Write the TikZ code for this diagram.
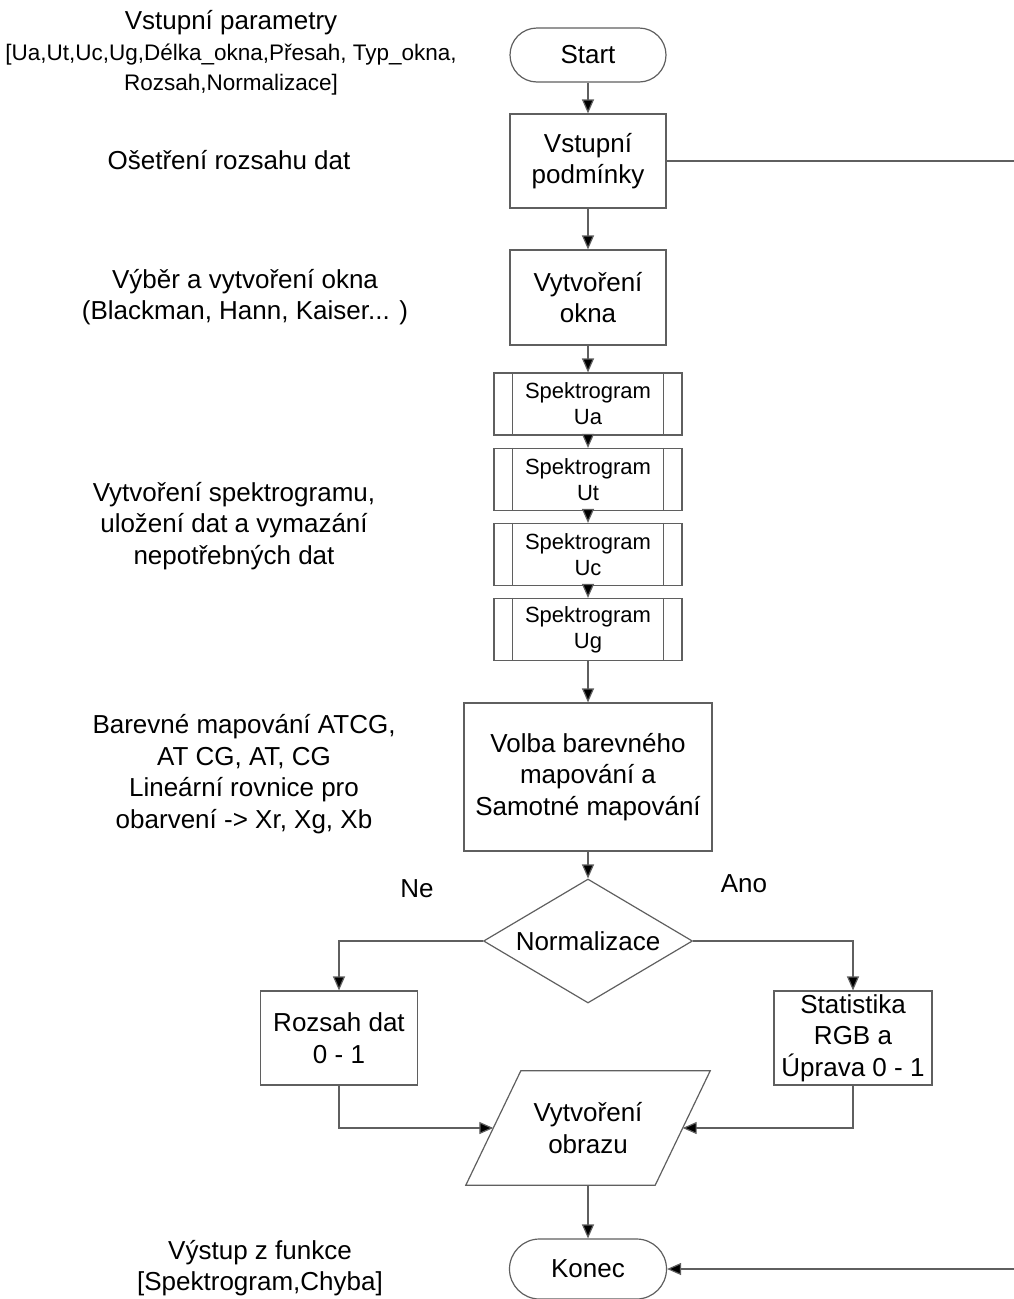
\documentclass[tikz,border=0pt]{standalone}
\usepackage{fontspec}
\setmainfont{Liberation Sans}
\usetikzlibrary{shapes.geometric,arrows.meta}
\definecolor{lc}{RGB}{95,95,95}
\newcommand\bigf{\fontsize{26}{31.5}\selectfont}
\newcommand\midf{\fontsize{22.5}{30}\selectfont}
\newcommand\smallf{\fontsize{22}{26}\selectfont}
\begin{document}
\begin{tikzpicture}[x=1pt,y=-1pt,
  line/.style={draw=lc, line width=1.2pt},
  arr/.style={line, -{Triangle[length=14pt,width=12pt,fill=black]}},
  box/.style={draw=lc, line width=1.2pt, rectangle, inner sep=0pt, align=center, font=\bigf},
  sbox/.style={draw=lc, line width=1.2pt, rectangle, inner sep=0pt, align=center, font=\smallf,
     minimum width=188pt, minimum height=62pt},
  term/.style={box, rounded corners=27pt},
  lab/.style={align=center, font=\bigf, inner sep=0pt}
]
\useasboundingbox (0,0) rectangle (1014,1299);

% left-hand descriptions
\node[lab] (t1) at (231,23) {Vstupní parametry};
\node[lab, font=\midf] (t1b) at (231,70) {{[}Ua,Ut,Uc,Ug,Délka\_okna,Přesah, Typ\_okna,\\ Rozsah,Normalizace{]}};
\node[lab] (t2) at (229,160) {Ošetření rozsahu dat};
\node[lab] (t3) at (245,297) {Výběr a vytvoření okna\\ (Blackman, Hann, Kaiser... )};
\node[lab] (t4) at (234,526) {Vytvoření spektrogramu,\\ uložení dat a vymazání\\ nepotřebných dat};
\node[lab] (t5) at (244,774) {Barevné mapování ATCG,\\ AT CG, AT, CG\\ Lineární rovnice pro\\ obarvení -> Xr, Xg, Xb};
\node[lab] (t6) at (260,1268) {Výstup z funkce\\ {[}Spektrogram,Chyba{]}};

% flow
\node[term, minimum width=156pt, minimum height=54pt] (start) at (588,55) {Start};
\node[box, minimum width=156pt, minimum height=94pt] (vp) at (588,161) {Vstupní\\ podmínky};
\node[box, minimum width=156pt, minimum height=95pt] (vo) at (588,297.5) {Vytvoření\\ okna};
\node[sbox] (sa) at (588,404) {Spektrogram\\ Ua};
\node[sbox] (st) at (588,479.5) {Spektrogram\\ Ut};
\node[sbox] (sc) at (588,554.5) {Spektrogram\\ Uc};
\node[sbox] (sg) at (588,629.5) {Spektrogram\\ Ug};
\foreach \n in {sa,st,sc,sg}{
  \draw[line] ([xshift=19pt]\n.north west) -- ([xshift=19pt]\n.south west);
  \draw[line] ([xshift=-19pt]\n.north east) -- ([xshift=-19pt]\n.south east);
}
\node[box, minimum width=248pt, minimum height=148pt] (vb) at (588,777) {Volba barevného\\ mapování a\\ Samotné mapování};
\node[diamond, draw=lc, line width=1.2pt, inner sep=0pt, minimum width=209pt, minimum height=124pt,
      label={[font=\bigf]center:Normalizace}] (dm) at (588,941) {};
\node[box, minimum width=157pt, minimum height=94pt] (rz) at (339,1038) {Rozsah dat\\ 0 - 1};
\node[box, minimum width=158pt, minimum height=94pt] (sr) at (853,1038) {Statistika\\ RGB a\\ Úprava 0 - 1};
\node[rectangle, inner sep=0pt, align=center, font=\bigf,
      minimum width=189pt, minimum height=114pt] (po) at (588,1128) {Vytvoření\\ obrazu};
\draw[line] ([xshift=27.5pt]po.north west) -- ([xshift=27.5pt]po.north east)
   -- ([xshift=-27.5pt]po.south east) -- ([xshift=-27.5pt]po.south west) -- cycle;
\node[term, rounded corners=30pt, minimum width=157pt, minimum height=60pt] (kon) at (588,1269) {Konec};

\node[font=\bigf, inner sep=0pt] (ne) at (417,889) {Ne};
\node[font=\bigf, inner sep=0pt] (ano) at (744,884) {Ano};

\coordinate (r1) at (1014,161);
\coordinate (r2) at (1014,1269);

\draw[arr] (start) -- (vp);
\draw[arr] (vp) -- (vo);
\draw[arr] (vo) -- (sa);
\draw[arr] (sa) -- (st);
\draw[arr] (st) -- (sc);
\draw[arr] (sc) -- (sg);
\draw[arr] (sg) -- (vb);
\draw[arr] (vb) -- (dm);
\draw[arr] (dm.west) -| (rz.north);
\draw[arr] (dm.east) -| (sr.north);
\draw[arr] (rz.south) |- (po.west);
\draw[arr] (sr.south) |- (po.east);
\draw[arr] (po) -- (kon);
\draw[line] (vp.east) -- (r1);
\draw[arr] (r2) -- (kon.east);
\end{tikzpicture}
\end{document}
